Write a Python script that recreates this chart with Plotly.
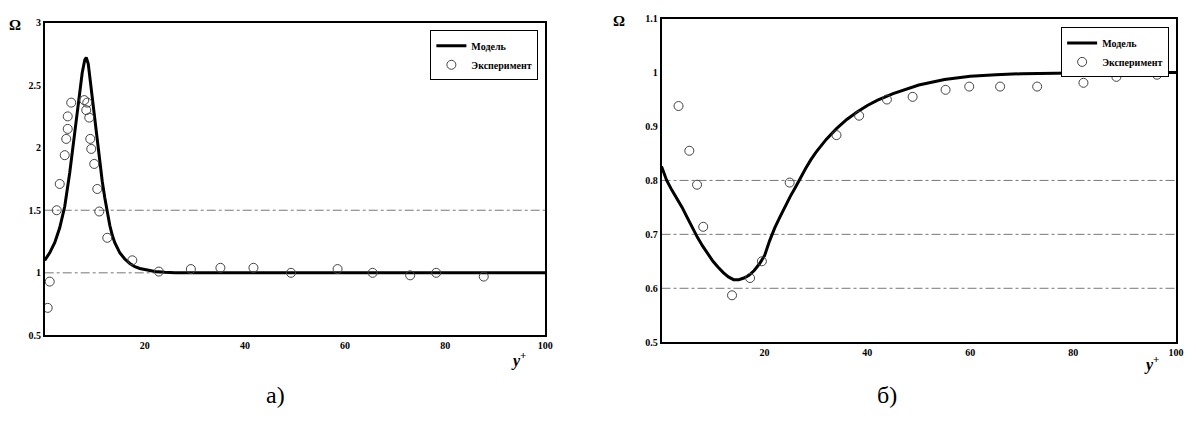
import plotly.graph_objects as go

# ---- Panel a) data ----
model_a_x = [0, 1, 2, 3, 4, 5, 6, 6.5, 7, 7.5, 8, 8.3, 8.7, 9, 9.5, 10, 10.5, 11, 11.5, 12, 12.5, 13, 13.5, 14, 15, 16, 17, 18, 19, 20, 21, 22, 24, 26, 30, 40, 60, 80, 100]
model_a_y = [1.10, 1.16, 1.24, 1.36, 1.53, 1.80, 2.12, 2.28, 2.45, 2.60, 2.70, 2.72, 2.67, 2.57, 2.40, 2.22, 2.05, 1.88, 1.73, 1.60, 1.48, 1.38, 1.30, 1.24, 1.16, 1.11, 1.075, 1.05, 1.035, 1.025, 1.015, 1.01, 1.004, 1.0, 1.0, 1.0, 1.0, 1.0, 1.0]
exp_a_x = [0.6, 1.0, 2.4, 3.0, 4.0, 4.3, 4.6, 4.6, 5.3, 7.9, 8.3, 8.5, 8.9, 9.1, 9.3, 9.9, 10.5, 10.9, 12.5, 17.5, 22.8, 29.2, 35.1, 41.7, 49.2, 58.5, 65.5, 73.0, 78.2, 87.7]
exp_a_y = [0.72, 0.93, 1.50, 1.71, 1.94, 2.07, 2.15, 2.25, 2.36, 2.38, 2.30, 2.36, 2.24, 2.07, 1.99, 1.87, 1.67, 1.49, 1.28, 1.10, 1.01, 1.03, 1.04, 1.04, 1.00, 1.03, 1.00, 0.98, 1.00, 0.97]
yticks_a = [0.5, 1, 1.5, 2, 2.5, 3]
yticklabels_a = ["0.5", "1", "1.5", "2", "2.5", "3"]
grid_a = [1.0, 1.5]

# ---- Panel б) data ----
model_b_x = [0, 1, 2, 3, 4, 5, 6, 7, 8, 9, 10, 11, 12, 13, 14, 15, 16, 17, 18, 19, 20, 21, 22, 23, 24, 25, 26, 27, 28, 29, 30, 32, 34, 36, 38, 40, 42, 45, 48, 50, 55, 60, 65, 70, 80, 90, 100]
model_b_y = [0.826, 0.800, 0.782, 0.766, 0.750, 0.731, 0.711, 0.694, 0.678, 0.663, 0.650, 0.639, 0.629, 0.621, 0.616, 0.616, 0.619, 0.624, 0.633, 0.645, 0.660, 0.688, 0.712, 0.732, 0.752, 0.770, 0.787, 0.805, 0.822, 0.838, 0.852, 0.876, 0.896, 0.913, 0.927, 0.939, 0.949, 0.961, 0.971, 0.977, 0.987, 0.993, 0.996, 0.998, 0.999, 1.0, 1.0]
exp_b_x = [3.3, 5.4, 6.9, 8.1, 13.7, 17.2, 19.5, 24.9, 34.0, 38.4, 43.8, 48.8, 55.2, 59.8, 65.8, 73.0, 82.0, 88.4, 96.3]
exp_b_y = [0.938, 0.855, 0.792, 0.714, 0.587, 0.619, 0.65, 0.796, 0.884, 0.92, 0.95, 0.955, 0.968, 0.974, 0.974, 0.974, 0.981, 0.992, 0.996]
yticks_b = [0.5, 0.6, 0.7, 0.8, 0.9, 1.0, 1.1]
yticklabels_b = ["0.5", "0.6", "0.7", "0.8", "0.9", "1", "1.1"]
grid_b = [0.6, 0.7, 0.8]

xticks = [20, 40, 60, 80, 100]
xticklabels = ["20", "40", "60", "80", "100"]

W, H = 1196, 424
SERIF = "Liberation Serif"


def fx(page_x):
    return page_x / W


def fy(page_y):
    return (H - page_y) / H


fig = go.Figure()

marker_style = dict(symbol="circle-open", size=9, color="#444", line=dict(width=1, color="#444"))

fig.add_trace(go.Scatter(x=model_a_x, y=model_a_y, mode="lines", name="Модель",
                         line=dict(color="black", width=3),
                         xaxis="x", yaxis="y", legend="legend"))
fig.add_trace(go.Scatter(x=exp_a_x, y=exp_a_y, mode="markers", name="Эксперимент",
                         marker=marker_style, xaxis="x", yaxis="y", legend="legend"))
fig.add_trace(go.Scatter(x=model_b_x, y=model_b_y, mode="lines", name="Модель",
                         line=dict(color="black", width=3),
                         xaxis="x2", yaxis="y2", legend="legend2"))
fig.add_trace(go.Scatter(x=exp_b_x, y=exp_b_y, mode="markers", name="Эксперимент",
                         marker=marker_style, xaxis="x2", yaxis="y2", legend="legend2"))

shapes = []
for g in grid_a:
    shapes.append(dict(type="line", xref="x", yref="y", x0=0, x1=100, y0=g, y1=g,
                       line=dict(color="#777", width=1, dash="dashdot"), layer="below"))
for g in grid_b:
    shapes.append(dict(type="line", xref="x2", yref="y2", x0=0, x1=100, y0=g, y1=g,
                       line=dict(color="#777", width=1, dash="dashdot"), layer="below"))

tickfont = dict(family=SERIF, size=10, color="black", weight="bold")
axis_common = dict(showline=True, linecolor="black", linewidth=1.5, mirror=True,
                   showgrid=False, zeroline=False, ticks="", tickfont=tickfont,
                   ticklabeloverflow="allow")

legend_common = dict(xanchor="right", yanchor="top", bordercolor="black", borderwidth=1,
                     bgcolor="white", font=dict(family=SERIF, size=10, color="black", weight="bold"),
                     tracegroupgap=0, itemwidth=30)


def ann(text, px, py, size):
    return dict(text=text, x=fx(px), y=fy(py), xref="paper", yref="paper",
                xanchor="center", yanchor="middle", showarrow=False,
                font=dict(family=SERIF, size=size, color="black"))


fig.update_layout(
    width=W, height=H, margin=dict(l=0, r=0, t=0, b=0),
    paper_bgcolor="white", plot_bgcolor="white",
    xaxis=dict(domain=[fx(45), fx(549)], range=[0, 100], tickvals=xticks, ticktext=xticklabels,
               anchor="y", **axis_common),
    yaxis=dict(domain=[fy(339), fy(17)], range=[0.5, 3], tickvals=yticks_a,
               ticktext=yticklabels_a, anchor="x", **axis_common),
    xaxis2=dict(domain=[fx(666), fx(1184)], range=[0, 100], tickvals=xticks, ticktext=xticklabels,
                anchor="y2", **axis_common),
    yaxis2=dict(domain=[fy(346), fy(13)], range=[0.5, 1.1], tickvals=yticks_b,
                ticktext=yticklabels_b, anchor="x2", **axis_common),
    legend=dict(x=fx(542), y=fy(25), **legend_common),
    legend2=dict(x=fx(1177), y=fy(22), **legend_common),
    shapes=shapes,
    annotations=[
        ann("<b>Ω</b>", 15, 20, 15),
        ann("<b>Ω</b>", 623, 15, 15),
        ann("<b><i>y</i></b><sup><b>+</b></sup>", 522, 364, 16),
        ann("<b><i>y</i></b><sup><b>+</b></sup>", 1159, 368, 16),
        ann("а)", 277, 400, 24),
        ann("б)", 893, 400, 24),
    ],
)

# remove the default page margin so the figure sits exactly at the top-left of the window
post = (
    "document.documentElement.style.margin='0';"
    "document.documentElement.style.overflow='hidden';"
    "document.body.style.margin='0';"
    "document.body.style.padding='0';"
    "document.body.style.overflow='hidden';"
    "var d=document.getElementById('{plot_id}');"
    "d.style.display='block';"
    "if(d.parentElement){d.parentElement.style.display='block';"
    "d.parentElement.style.height='424px';d.parentElement.style.overflow='hidden';}"
)

fig.write_html("out.html", post_script=post, config={"displayModeBar": False})
